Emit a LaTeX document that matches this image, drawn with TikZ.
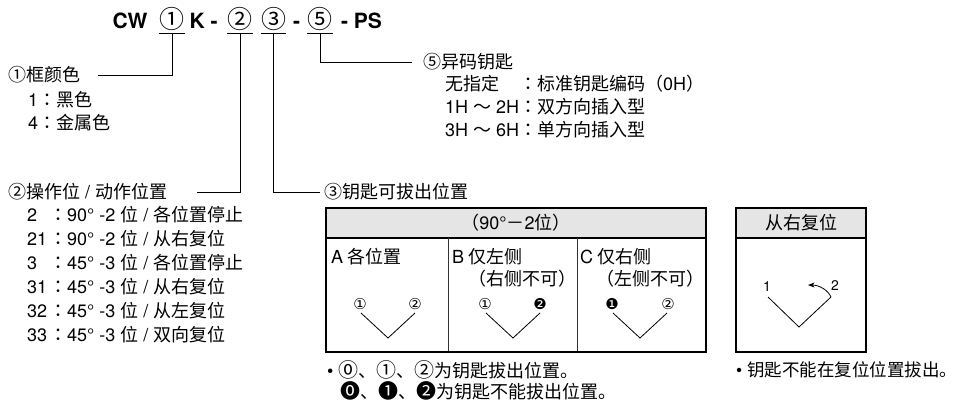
\documentclass[tikz,border=0pt]{standalone}
\usepackage{fontspec}
\setmainfont{Noto Sans CJK SC}
\newfontfamily\symfont{DejaVu Sans}
\newfontfamily\circfont{Noto Sans CJK JP}
\newfontfamily\latinfont{TeX Gyre Heros}
\newcommand{\hv}[1]{{\latinfont #1}}
\newcommand{\jc}{{\circfont ：}}
\newcommand{\cm}[1]{{\circfont\fontsize{20}{21}\selectfont #1}}
\usetikzlibrary{calc, arrows.meta}
\tikzset{
  code part/.style={font=\latinfont\fontsize{21}{24}\selectfont\bfseries, inner sep=0pt, anchor=base},
  code digit/.style={font=\fontsize{25}{27}\selectfont, inner xsep=0pt, inner ysep=0pt, text depth=5pt, anchor=base},
  digit rule/.style={line width=0.8pt},
  leader line/.style={line width=0.8pt, black},
  body text/.style={font=\fontsize{18}{21}\selectfont, inner sep=0pt, anchor=west},
  cell text/.style={font=\fontsize{18}{21}\selectfont, inner sep=0pt, anchor=west},
  pos mark/.style={font=\symfont\fontsize{15}{16}\selectfont, inner sep=0pt},
  table frame/.style={line width=1.4pt, black},
  table rule/.style={line width=0.7pt, black!80},
  key path/.style={line width=0.8pt, black},
  >=Stealth,
}

\begin{document}
\begin{tikzpicture}[x=1pt, y=-1pt]
  \useasboundingbox (0,0) rectangle (961,405);
  % model code
  \node[code part] (cw) at (130,28) {CW};
  \node[code digit] (d1) at (172,28) {①};
  \node[code part] (k) at (203.5,28) {K -};
  \node[code digit] (d2) at (240,28) {②};
  \node[code digit] (d3) at (273.5,28) {③};
  \node[code part] (dash) at (296.5,28) {-};
  \node[code digit] (d5) at (320,28) {⑤};
  \node[code part] (ps) at (361.5,28) {- PS};
  \foreach \d in {d1, d2, d3, d5}
    \draw[digit rule] (\d.south west) -- (\d.south east);

  % frame colour
  \node[body text] (frame) at (8,75) {①框颜色};
  \node[body text] at (28,100) {\hv{1}\jc 黑色};
  \node[body text] at (28,123) {\hv{4}\jc 金属色};
  \draw[leader line] (d1.south) |- ([xshift=18pt]frame.east);

  % key code
  \node[body text] (keycode) at (423,62) {⑤异码钥匙};
  \node[body text] at (445,84) {无指定};
  \node[body text] at (519,84) {\jc 标准钥匙编码（\hv{0H}）};
  \node[body text] at (445,107) {\hv{1H }～\hv{ 2H}};
  \node[body text] at (519,107) {\jc 双方向插入型};
  \node[body text] at (445,130) {\hv{3H }～\hv{ 6H}};
  \node[body text] at (519,130) {\jc 单方向插入型};
  \draw[leader line] (d5.south) |- ([xshift=-11pt]keycode.west);

  % operating positions
  \node[body text] (oper) at (8,192) {②操作位\hv{ / }动作位置};
  \node[body text] at (27,215) {\hv{2}};
  \node[body text] at (49,215) {\jc\hv{90° -2 }位\hv{ / }各位置停止};
  \node[body text] at (27,239) {\hv{21}};
  \node[body text] at (49,239) {\jc\hv{90° -2 }位\hv{ / }从右复位};
  \node[body text] at (27,263) {\hv{3}};
  \node[body text] at (49,263) {\jc\hv{45° -3 }位\hv{ / }各位置停止};
  \node[body text] at (27,287) {\hv{31}};
  \node[body text] at (49,287) {\jc\hv{45° -3 }位\hv{ / }从右复位};
  \node[body text] at (27,311) {\hv{32}};
  \node[body text] at (49,311) {\jc\hv{45° -3 }位\hv{ / }从左复位};
  \node[body text] at (27,335) {\hv{33}};
  \node[body text] at (49,335) {\jc\hv{45° -3 }位\hv{ / }双向复位};
  \draw[leader line] (d2.south) |- ([xshift=30pt]oper.east);

  % key removal positions
  \node[body text] (removal) at (324,192) {③钥匙可拔出位置};
  \draw[leader line] (d3.south) |- ([xshift=-4pt]removal.west);

  \draw[table frame, fill=gray!20] (326,208) rectangle (706,238);
  \draw[table rule] (448,238) -- (448,352);
  \draw[table rule] (577,238) -- (577,352);
  \draw[table frame] (326,208) rectangle (706,352);
  \node[font=\fontsize{18}{21}\selectfont] (head) at (516,223) {（\hv{90°}－\hv{2}位）};
  \node[cell text] (cellA) at (331,257) {\hv{A} 各位置};
  \node[cell text] (cellB) at (452,257) {\hv{B} 仅左侧};
  \node[cell text] at (468,279) {（右侧不可）};
  \node[cell text] (cellC) at (580,257) {\hv{C} 仅右侧};
  \node[cell text] at (596,279) {（左侧不可）};

  \node[pos mark] (a1) at (360,304) {①};
  \node[pos mark] (a2) at (415,304) {②};
  \draw[key path] (361,313) -- (388,338) -- (415,313);
  \node[pos mark] (b1) at (485,304) {①};
  \node[pos mark] (b2) at (540,304) {❷};
  \draw[key path] (486,313) -- (513,338) -- (540,313);
  \node[pos mark] (c1) at (612,304) {❶};
  \node[pos mark] (c2) at (668,304) {②};
  \draw[key path] (613,313) -- (640,338) -- (667,313);

  \node[body text] at (327,370) {\hv{•\ }\cm{⓪}、\cm{①}、\cm{②}为钥匙拔出位置。};
  \node[body text] at (340,391) {\cm{⓿}、\cm{❶}、\cm{❷}为钥匙不能拔出位置。};

  % spring return
  \draw[table frame, fill=gray!20] (736,208) rectangle (866,238);
  \draw[table frame] (736,208) rectangle (866,352);
  \node[font=\fontsize{18}{21}\selectfont] (rhead) at (801,223) {从右复位};
  \coordinate (r1) at (768,297);
  \coordinate (r0) at (799,327);
  \coordinate (r2) at (831,297);
  \draw[key path] (r1) -- (r0) -- (r2);
  \node[font=\latinfont\fontsize{14}{15}\selectfont, inner sep=0pt] at (767,287) {1};
  \node[font=\latinfont\fontsize{14}{15}\selectfont, inner sep=0pt] at (835,286) {2};
  \draw[key path, ->] (r2) .. controls (828,290) and (819,285) .. (808,285);
  \node[body text, font=\fontsize{17.5}{20}\selectfont] at (736,370) {\hv{•\ }钥匙不能在复位位置拔出。};
\end{tikzpicture}
\end{document}
